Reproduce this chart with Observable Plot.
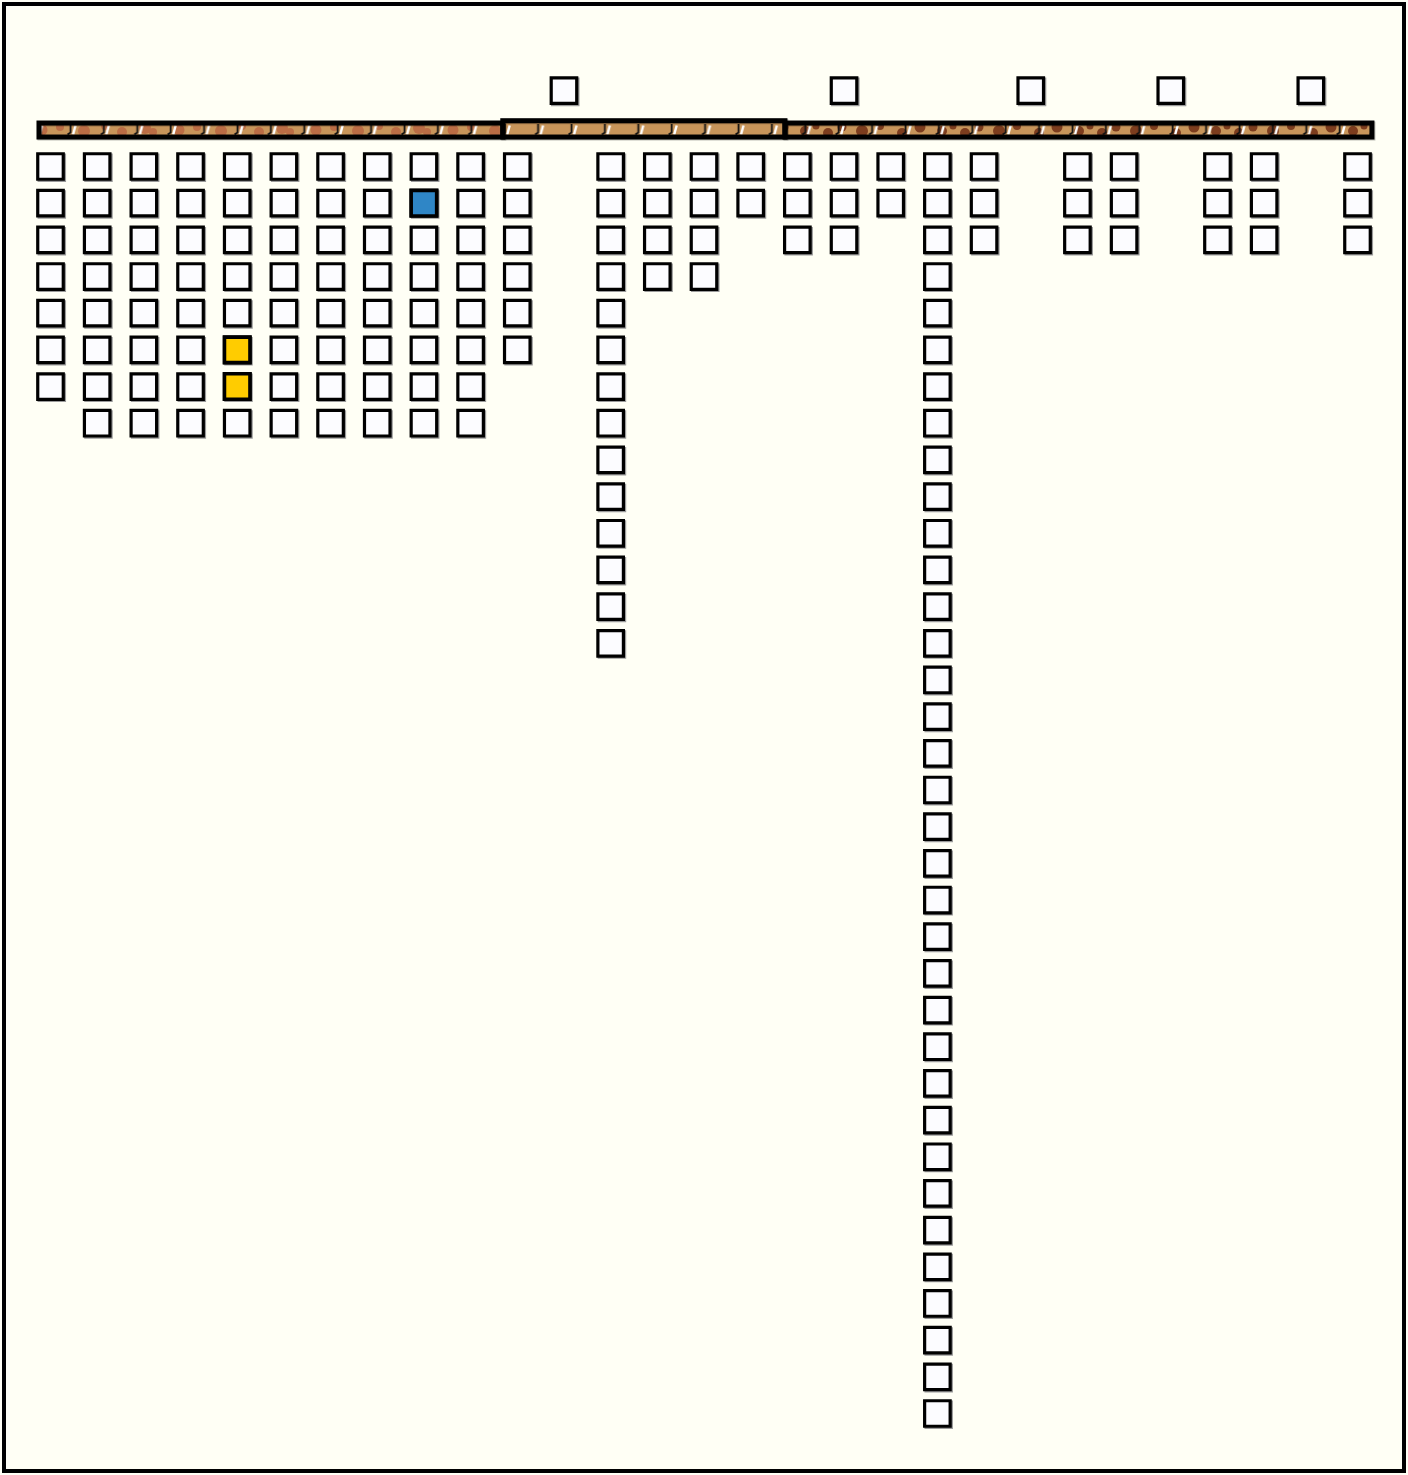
<!DOCTYPE html>
<html><head><meta charset="utf-8">
<script src="https://cdn.jsdelivr.net/npm/d3@7"></script>
<script src="https://cdn.jsdelivr.net/npm/@observablehq/plot@0.6"></script>
<style>
html,body{margin:0;padding:0;background:#fffff5;}
#wrap{position:relative;width:1408px;height:1475px;overflow:hidden;}
#border{position:absolute;left:2px;top:2px;width:1404px;height:1471px;border:4px solid #000;box-sizing:border-box;pointer-events:none;}
</style></head><body>
<div id="wrap"><div id="chart"></div><div id="border"></div></div>
<script>
// ---- data ----
const columns = d3.range(29);
const belowCounts = [7,8,8,8,8,8,8,8,8,8,6,0,14,4,4,2,3,3,2,35,3,0,3,3,0,3,3,0,3];
const aboveColumns = [11,17,21,24,27];
const highlightCols = [4,4,8];
const highlightRows = [5,6,1];
const highlightColors = ["#ffcc00","#ffcc00","#2f86c6"];
const segStart = [-0.236, 9.70, 15.745];
const segEnd = [9.70, 15.745, 28.32];
const segKind = ["light","plain","dark"];

// ---- tables ----
const cells = [];
columns.forEach((c,i) => { for (let r = 0; r < belowCounts[i]; r++) cells.push({col:c,row:r}); });
const ABOVE = -2.07;
aboveColumns.forEach(c => cells.push({col:c,row:ABOVE}));
const hl = highlightCols.map((c,i) => ({col:c,row:highlightRows[i],color:highlightColors[i]}));
const segs = segStart.map((s,i) => ({start:s,end:segEnd[i],kind:segKind[i]}));

const patternOf = {light:"url(#spotsLight)",plain:"url(#plainBrown)",dark:"url(#spotsDark)"};
const barTop = d => d.kind === "plain" ? -1.235 : -1.172;
const barBot = () => -0.79;

const plot = Plot.plot({
  width:1408, height:1475,
  marginLeft:50, marginRight:51, marginTop:166, marginBottom:62,
  x:{domain:[0,28], axis:null},
  y:{domain:[0,34], reverse:true, axis:null},
  style:{background:"#fffff5", overflow:"visible"},
  marks:[
    Plot.rect(segs, {x1:"start", x2:"end", y1:barTop, y2:barBot, fill:d=>patternOf[d.kind], stroke:"none"}),
    Plot.rect(segs, {x1:"start", x2:"end", y1:barTop, y2:barBot, fill:"url(#slashes)", stroke:"none"}),
    Plot.rect(segs, {x1:"start", x2:"end", y1:barTop, y2:barBot, fill:"none", stroke:"#000", strokeWidth:5, dx:1, dy:1, strokeOpacity:0.25}),
    Plot.rect(segs, {x1:"start", x2:"end", y1:barTop, y2:barBot, fill:"none", stroke:"#000", strokeWidth:5}),
    Plot.dot(cells, {x:"col", y:"row", symbol:"square", r:14.4, fill:"none", stroke:"#9a9a9a", strokeWidth:3, dx:1.3, dy:1.3}),
    Plot.dot(cells, {x:"col", y:"row", symbol:"square", r:14.4, fill:"#fcfcff", stroke:"#000", strokeWidth:3.2}),
    Plot.dot(hl, {x:"col", y:"row", symbol:"square", r:14.4, fill:"color", stroke:"#000", strokeWidth:3.6})
  ]
});

// patterns for the bar texture
const svg = d3.select(plot);
const defs = svg.insert("defs", ":first-child");
function spots(id, color, circles) {
  const p = defs.append("pattern").attr("id", id).attr("patternUnits","userSpaceOnUse")
    .attr("x", 0).attr("y", 110).attr("width", 137).attr("height", 40);
  p.append("rect").attr("width",137).attr("height",40).attr("fill","#c8955a");
  circles.forEach(([cx,cy,r]) => p.append("circle").attr("cx",cx).attr("cy",cy).attr("r",r).attr("fill",color));
}
spots("spotsLight", "#bb6d45", [[8,18,6],[16,22,4],[42,20,5.5],[60,17,4],[84,21,6],[105,16,4],[122,22,5]]);
spots("spotsDark", "#7d3d1e", [[6,23,5],[20,17,4.5],[40,21,6],[58,16,4],[80,23,5],[98,17,5.5],[120,21,5],[131,16,3.5]]);
defs.append("pattern").attr("id","plainBrown").attr("patternUnits","userSpaceOnUse")
  .attr("width",10).attr("height",10)
  .append("rect").attr("width",10).attr("height",10).attr("fill","#c8955a");
const sl = defs.append("pattern").attr("id","slashes").attr("patternUnits","userSpaceOnUse")
  .attr("x", 64).attr("y", 110).attr("width", 33.4).attr("height", 40);
sl.append("path").attr("d","M6.5,14 L6.5,22.5 L3.5,24.5").attr("stroke","#111").attr("stroke-width",1.8).attr("fill","none");
sl.append("path").attr("d","M9,24.5 L11.5,15.5").attr("stroke","#fff").attr("stroke-width",2.4).attr("fill","none");

document.getElementById("chart").appendChild(plot);
</script>
</body></html>
